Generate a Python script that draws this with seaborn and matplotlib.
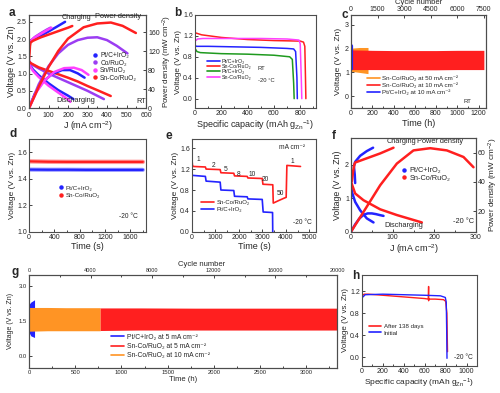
import matplotlib
matplotlib.use("Agg")
import matplotlib.pyplot as plt
import seaborn as sns
from matplotlib.lines import Line2D
from matplotlib.ticker import AutoMinorLocator

BLUE = "#2323ff"
RED = "#ff1f1f"
PURPLE = "#9b3df2"
MAGENTA = "#ff40ff"
GREEN = "#1f9a1f"
ORANGE = "#ff9424"

# legend names (plain unicode sub/superscripts keep the rows compact)
PT = "Pt/C+IrO₂"
SNCO = "Sn-Co/RuO₂"
MACM = "mA cm⁻²"
VLAB = "Voltage (V vs. Zn)"
CAPLAB = "Specific capacity (mAh g$_{\\mathrm{Zn}}$$^{-1}$)"

# a : RT polarisation and power density
a_pt_chg_j = [0, 5, 10, 30, 60, 100, 140, 185]
a_pt_chg_v = [1.85, 1.92, 1.95, 2.02, 2.1, 2.22, 2.35, 2.5]
a_pt_dis_j = [0, 5, 20, 50, 100, 150, 200, 228]
a_pt_dis_v = [1.35, 1.25, 1.12, 0.95, 0.72, 0.52, 0.36, 0.26]
a_pt_pow_j = [0, 30, 70, 120, 170, 210, 250, 285]
a_pt_pow_p = [0, 30, 55, 72, 80, 80, 73, 64]

a_co_chg_j = [0, 10, 30, 60, 90, 110]
a_co_chg_v = [1.85, 1.96, 2.06, 2.17, 2.27, 2.33]
a_co_dis_j = [0, 10, 50, 100, 200, 300, 384]
a_co_dis_v = [1.38, 1.28, 1.15, 1.0, 0.75, 0.5, 0.26]
a_co_pow_j = [0, 50, 100, 150, 200, 250, 300, 350, 400, 450, 505]
a_co_pow_p = [0, 50, 88, 115, 133, 143, 148, 149, 143, 131, 115]

a_sn_chg_j = [0, 10, 30, 60, 90, 115]
a_sn_chg_v = [1.85, 1.95, 2.05, 2.15, 2.25, 2.33]
a_sn_dis_j = [0, 5, 20, 50, 100, 150, 200, 212]
a_sn_dis_v = [1.35, 1.22, 1.08, 0.9, 0.65, 0.45, 0.25, 0.18]
a_sn_pow_j = [0, 40, 80, 130, 180, 230, 270, 305]
a_sn_pow_p = [0, 35, 58, 76, 84, 85, 80, 70]

a_snco_chg_j = [0, 3, 5, 8, 20, 60, 100, 150, 200, 222]
a_snco_chg_v = [1.4, 1.6, 1.8, 1.9, 1.95, 2.05, 2.13, 2.23, 2.33, 2.38]
a_snco_dis_j = [0, 10, 50, 100, 150, 200, 250, 300, 350, 419]
a_snco_dis_v = [1.35, 1.3, 1.18, 1.08, 0.98, 0.88, 0.77, 0.64, 0.52, 0.35]
a_snco_pow_j = [0, 25, 50, 100, 150, 200, 280, 350, 420, 480, 548]
a_snco_pow_p = [0, 22, 45, 86, 120, 146, 170, 178, 180, 173, 158]

# b : discharge curves
b_pt_rt_q = [0, 10, 100, 300, 500, 700, 750, 765, 775, 778]
b_pt_rt_v = [1.02, 1.0, 1.0, 0.99, 0.98, 0.96, 0.95, 0.9, 0.4, 0.0]
b_snco_rt_q = [0, 50, 200, 400, 600, 800, 825, 835, 840, 843]
b_snco_rt_v = [1.26, 1.22, 1.17, 1.13, 1.11, 1.1, 1.08, 1.0, 0.4, 0.0]
b_pt_lt_q = [0, 15, 40, 200, 400, 600, 720, 740, 750, 754]
b_pt_lt_v = [0.96, 0.9, 0.88, 0.86, 0.85, 0.83, 0.8, 0.75, 0.3, 0.0]
b_snco_lt_q = [0, 20, 60, 300, 500, 700, 790, 800, 808, 812]
b_snco_lt_v = [1.1, 1.14, 1.15, 1.15, 1.15, 1.14, 1.12, 1.05, 0.4, 0.0]

# c : long-term cycling at RT (band = voltage range of the cycles)
c_orange_t = [0, 80, 160]
c_orange_hi = [2.02, 2.05, 2.05]
c_orange_lo = [1.05, 1.0, 0.95]
c_red_t = [0, 200, 400, 600, 800, 1000, 1250]
c_red_hi = [1.95, 1.93, 1.92, 1.92, 1.92, 1.93, 1.93]
c_red_lo = [1.12, 1.12, 1.12, 1.11, 1.11, 1.12, 1.12]
c_blue_t = [0, 8, 15]
c_blue_hi = [2.2, 2.2, 2.15]
c_blue_lo = [1.12, 1.12, 1.15]

# d : charge at -20 C
d_t = [0, 300, 600, 900, 1200, 1500, 1800]
d_pt_v = [1.468, 1.467, 1.467, 1.466, 1.466, 1.466, 1.466]
d_snco_v = [1.53, 1.527, 1.526, 1.526, 1.526, 1.526, 1.526]

# e : rate performance at -20 C
e_snco_t = [0, 20, 60, 570, 600, 1200, 1230, 1780, 1810, 2350, 2380, 2990, 3020, 3440, 3460, 3700, 3900, 4010, 4040, 4620]
e_snco_v = [1.38, 1.27, 1.25, 1.24, 1.2, 1.19, 1.13, 1.12, 1.07, 1.06, 1.03, 1.02, 0.91, 0.9, 0.55, 0.6, 0.64, 0.66, 1.27, 1.25]
e_pt_t = [0, 10, 570, 600, 1200, 1230, 1780, 1810, 2350, 2380, 2990, 3030, 3430, 3440]
e_pt_v = [1.12, 1.08, 1.06, 0.97, 0.95, 0.8, 0.79, 0.68, 0.67, 0.63, 0.62, 0.38, 0.37, -0.1]
e_rate_lab = ["1", "2", "5", "8", "10", "20", "50", "1"]
e_rate_t = [284, 923, 1449, 1989, 2557, 3125, 3764, 4290]
e_rate_v = [1.38, 1.27, 1.19, 1.10, 1.10, 1.01, 0.74, 1.35]

# f : -20 C polarisation and power density
f_pt_chg_j = [10, 9, 7, 10, 22, 38, 53]
f_pt_chg_v = [1.45, 1.7, 1.95, 2.08, 2.26, 2.4, 2.5]
f_pt_dis_j = [0, 2, 10, 22, 38, 54]
f_pt_dis_v = [1.45, 1.19, 0.89, 0.64, 0.4, 0.28]
f_pt_pow_j = [0, 10, 20, 30, 40, 50, 60, 70, 78]
f_pt_pow_p = [6, 11, 15, 17.5, 18.5, 18.5, 18, 17.3, 16.8]
f_snco_chg_j = [2, 5, 8, 10, 30, 70, 102]
f_snco_chg_v = [1.5, 1.8, 2.0, 2.06, 2.15, 2.33, 2.5]
f_snco_dis_j = [0, 10, 30, 70, 110, 170]
f_snco_dis_v = [1.49, 1.14, 0.94, 0.67, 0.5, 0.28]
f_snco_pow_j = [0, 30, 70, 110, 150, 190, 230, 270, 294]
f_snco_pow_p = [6, 19.5, 37.7, 52.5, 61.5, 63, 61.5, 57, 50]

# g : long-term cycling at -20 C
g_blue_t = [0, 20, 60]
g_blue_hi = [2.2, 2.3, 2.4]
g_blue_lo = [1.0, 0.85, 0.78]
g_orange_t = [0, 200, 400, 600, 770]
g_orange_hi = [2.07, 2.07, 2.06, 2.06, 2.06]
g_orange_lo = [1.05, 1.07, 1.07, 1.07, 1.07]
g_red_t = [770, 1200, 1800, 2400, 3000, 3333]
g_red_hi = [2.05, 2.05, 2.04, 2.04, 2.04, 2.04]
g_red_lo = [1.08, 1.1, 1.1, 1.1, 1.1, 1.1]

# h : storage test
h_after_q = [0, 20, 60, 200, 400, 600, 635, 637, 637, 640, 700, 780, 800, 812, 818]
h_after_v = [1.12, 1.15, 1.15, 1.13, 1.1, 1.07, 1.06, 1.29, 1.03, 1.06, 1.06, 1.05, 1.02, 0.8, 0.1]
h_init_q = [0, 2, 10, 30, 200, 400, 600, 750, 797, 806, 810, 813]
h_init_v = [1.47, 1.12, 1.1, 1.14, 1.15, 1.14, 1.13, 1.12, 1.09, 1.0, 0.5, -0.02]

sns.set_theme(style="ticks")
plt.rcParams["font.family"] = ["Liberation Sans", "DejaVu Sans"]
plt.rcParams["mathtext.fontset"] = "custom"
plt.rcParams["mathtext.rm"] = "Liberation Sans"
plt.rcParams["mathtext.it"] = "Liberation Sans:italic"


def line(ax, x, y, color, lw=1.1):
    sns.lineplot(x=x, y=y, ax=ax, color=color, linewidth=lw, sort=False, estimator=None)


def style(ax, fs=5):
    ax.tick_params(which="both", direction="in", labelsize=fs, width=0.6, pad=1.5)
    ax.tick_params(which="major", length=2.2)
    ax.tick_params(which="minor", length=1.2)
    for s in ax.spines.values():
        s.set_linewidth(0.8)
        s.set_color("0.3")


def dots(colors, labels):
    return [Line2D([], [], marker="o", ls="", color=c, markersize=2.2, label=l)
            for c, l in zip(colors, labels)]


def lines(colors, labels, lw=1.2):
    return [Line2D([], [], color=c, lw=lw, label=l) for c, l in zip(colors, labels)]


def leg(ax, handles, anchor, fs=5, hl=2.0, ls=0.35):
    ax.legend(handles=handles, loc="upper left", bbox_to_anchor=anchor, frameon=False,
              fontsize=fs, handlelength=hl, handletextpad=0.4, labelspacing=ls,
              borderaxespad=0, borderpad=0)


fig = plt.figure(figsize=(5, 3.93), dpi=100)

# ---------------- a
ax = fig.add_axes([0.058, 0.725, 0.234, 0.237])
axr = ax.twinx()
for j, v, c in [(a_pt_chg_j, a_pt_chg_v, BLUE), (a_pt_dis_j, a_pt_dis_v, BLUE),
                (a_co_chg_j, a_co_chg_v, PURPLE), (a_co_dis_j, a_co_dis_v, PURPLE),
                (a_sn_chg_j, a_sn_chg_v, MAGENTA), (a_sn_dis_j, a_sn_dis_v, MAGENTA),
                (a_snco_chg_j, a_snco_chg_v, RED), (a_snco_dis_j, a_snco_dis_v, RED)]:
    line(ax, j, v, c, lw=1.8)
for j, p, c in [(a_pt_pow_j, a_pt_pow_p, BLUE), (a_co_pow_j, a_co_pow_p, PURPLE),
                (a_sn_pow_j, a_sn_pow_p, MAGENTA), (a_snco_pow_j, a_snco_pow_p, RED)]:
    line(axr, j, p, c, lw=1.8)
ax.set_xlim(0, 600)
ax.set_ylim(0, 2.7)
axr.set_ylim(0, 196)
ax.set_xticks(range(0, 601, 100))
ax.set_yticks([0, 0.5, 1.0, 1.5, 2.0, 2.5])
ax.set_yticklabels(["0.0", "0.5", "1.0", "1.5", "2.0", "2.5"])
axr.set_yticks([0, 40, 80, 120, 160])
ax.xaxis.set_minor_locator(AutoMinorLocator(2))
style(ax, 5)
style(axr, 5)
ax.tick_params(axis="x", pad=2.5)
ax.set_xlabel("J (mA cm$^{-2}$)", fontsize=6.5, labelpad=0.5)
ax.set_ylabel(VLAB, fontsize=6.5, labelpad=1)
axr.set_ylabel("Power density (mW cm$^{-2}$)", fontsize=5.8, labelpad=0.5)
axr.text(243, 2.62 / 2.7 * 196, "Charging", fontsize=5.3, ha="center", va="center")
axr.text(458, 2.65 / 2.7 * 196, "Power density", fontsize=5.3, ha="center", va="center")
axr.text(238, 0.21 / 2.7 * 196, "Discharging", fontsize=5.3, ha="center", va="center")
axr.text(574, 0.2 / 2.7 * 196, "RT", fontsize=5.3, ha="center", va="center")
leg(axr, dots([BLUE, PURPLE, MAGENTA, RED], [PT, "Co/RuO₂", "Sn/RuO₂", SNCO]),
    (0.54, 0.6), fs=4.8, hl=0.8, ls=0.08)

# ---------------- b
ax = fig.add_axes([0.39, 0.725, 0.242, 0.237])
for q, v, c in [(b_pt_rt_q, b_pt_rt_v, BLUE), (b_snco_rt_q, b_snco_rt_v, RED),
                (b_pt_lt_q, b_pt_lt_v, GREEN), (b_snco_lt_q, b_snco_lt_v, MAGENTA)]:
    line(ax, q, v, c, lw=1.1)
ax.set_xlim(0, 920)
ax.set_ylim(-0.18, 1.6)
ax.set_xticks([0, 200, 400, 600, 800])
ax.set_yticks([0, 0.4, 0.8, 1.2, 1.6])
ax.set_yticklabels(["0.0", "0.4", "0.8", "1.2", "1.6"])
ax.xaxis.set_minor_locator(AutoMinorLocator(2))
style(ax, 5)
ax.set_xlabel(CAPLAB, fontsize=6.5, labelpad=1)
ax.set_ylabel(VLAB, fontsize=5.8, labelpad=1)
leg(ax, lines([BLUE, RED, GREEN, MAGENTA], [PT, SNCO, PT, SNCO]), (0.1, 0.53), fs=3.9, hl=2.3, ls=0.05)
ax.text(0.52, 0.43, "RT", transform=ax.transAxes, fontsize=4.2, va="center")
ax.text(0.52, 0.3, "-20 °C", transform=ax.transAxes, fontsize=4.2, va="center")

# ---------------- c
ax = fig.add_axes([0.702, 0.725, 0.27, 0.237])
ax.fill_between(c_orange_t, c_orange_lo, c_orange_hi, color=ORANGE, lw=0)
ax.fill_between(c_red_t, c_red_lo, c_red_hi, color=RED, lw=0)
ax.fill_between(c_blue_t, c_blue_lo, c_blue_hi, color=BLUE, lw=0)
ax.set_xlim(0, 1270)
ax.set_ylim(-0.5, 3.42)
ax.set_xticks(range(0, 1201, 200))
ax.set_yticks([0, 1, 2, 3])
ax.xaxis.set_minor_locator(AutoMinorLocator(2))
style(ax, 5)
ax.set_xlabel("Time (h)", fontsize=6.5, labelpad=1)
ax.set_ylabel(VLAB, fontsize=6.0, labelpad=2)
axt = ax.twiny()
axt.set_xlim(0, 1270 * 6)
axt.set_xticks(range(0, 7501, 1500))
style(axt, 5)
axt.set_xlabel("Cycle number", fontsize=5.5, labelpad=1)
leg(ax, lines([ORANGE, RED, BLUE], [SNCO + " at 50 " + MACM, SNCO + " at 10 " + MACM, PT + " at 10 " + MACM]),
    (0.12, 0.35), fs=4.5, hl=2.0, ls=0.2)
ax.text(0.83, 0.075, "RT", transform=ax.transAxes, fontsize=4.3, va="center")

# ---------------- d
ax = fig.add_axes([0.058, 0.41, 0.234, 0.237])
line(ax, d_t, d_snco_v, "#ff9a9a", lw=3.2)
line(ax, d_t, d_snco_v, RED, lw=1.6)
line(ax, d_t, d_pt_v, "#9a9aff", lw=3.0)
line(ax, d_t, d_pt_v, BLUE, lw=1.6)
ax.set_xlim(0, 1850)
ax.set_ylim(1.0, 1.7)
ax.set_xticks(range(0, 1601, 400))
ax.set_yticks([1.0, 1.2, 1.4, 1.6])
ax.xaxis.set_minor_locator(AutoMinorLocator(2))
style(ax, 5)
ax.set_xlabel("Time (s)", fontsize=6.5, labelpad=1)
ax.set_ylabel(VLAB, fontsize=6.0, labelpad=1)
leg(ax, dots([BLUE, RED], [PT, SNCO]), (0.25, 0.5), fs=4.5, hl=0.8, ls=0.27)
ax.text(0.85, 0.16, "-20 °C", transform=ax.transAxes, fontsize=4.8, ha="center", va="center")

# ---------------- e
ax = fig.add_axes([0.384, 0.41, 0.248, 0.237])
line(ax, e_snco_t, e_snco_v, RED, lw=1.2)
line(ax, e_pt_t, e_pt_v, BLUE, lw=1.2)
ax.set_xlim(0, 5280)
ax.set_ylim(0, 1.78)
ax.set_xticks(range(0, 5001, 1000))
ax.set_yticks([0, 0.4, 0.8, 1.2, 1.6])
ax.set_yticklabels(["0.0", "0.4", "0.8", "1.2", "1.6"])
ax.xaxis.set_minor_locator(AutoMinorLocator(2))
style(ax, 5)
ax.set_xlabel("Time (s)", fontsize=6.5, labelpad=1)
ax.set_ylabel(VLAB, fontsize=6.0, labelpad=1)
for lab, t, v in zip(e_rate_lab, e_rate_t, e_rate_v):
    ax.text(t, v, lab, fontsize=4.8, ha="center", va="center")
ax.text(0.81, 0.91, MACM, transform=ax.transAxes, fontsize=4.8, ha="center", va="center")
ax.text(0.89, 0.1, "-20 °C", transform=ax.transAxes, fontsize=4.8, ha="center", va="center")
leg(ax, lines([RED, BLUE], [SNCO, PT]), (0.07, 0.34), fs=4.3, hl=2.2, ls=0.25)

# ---------------- f
ax = fig.add_axes([0.702, 0.41, 0.25, 0.239])
axr = ax.twinx()
for j, v, c in [(f_pt_chg_j, f_pt_chg_v, BLUE), (f_pt_dis_j, f_pt_dis_v, BLUE),
                (f_snco_chg_j, f_snco_chg_v, RED), (f_snco_dis_j, f_snco_dis_v, RED)]:
    line(ax, j, v, c, lw=1.8)
line(axr, f_pt_pow_j, f_pt_pow_p, BLUE, lw=1.8)
line(axr, f_snco_pow_j, f_snco_pow_p, RED, lw=1.8)
ax.set_xlim(0, 300)
ax.set_ylim(0, 2.79)
axr.set_ylim(5.9, 70)
ax.set_xticks([0, 100, 200, 300])
ax.set_yticks([0, 1, 2])
axr.set_yticks([20, 40, 60])
ax.xaxis.set_minor_locator(AutoMinorLocator(2))
style(ax, 5)
style(axr, 5)
ax.set_xlabel("J (mA cm$^{-2}$)", fontsize=6.5, labelpad=1)
ax.set_ylabel(VLAB, fontsize=6.3, labelpad=2)
axr.set_ylabel("Power density (mW cm$^{-2}$)", fontsize=5.9, labelpad=0.5)
ax.text(122, 2.67, "Charging", fontsize=5.3, ha="center", va="center")
ax.text(214, 2.67, "Power density", fontsize=5.3, ha="center", va="center")
ax.text(127, 0.18, "Discharging", fontsize=5.3, ha="center", va="center")
ax.text(269, 0.3, "-20 °C", fontsize=5.3, ha="center", va="center")
leg(axr, dots([BLUE, RED], [PT, SNCO]), (0.4, 0.69), fs=5.3, hl=0.8, ls=0.08)

# ---------------- g
ax = fig.add_axes([0.058, 0.0636, 0.616, 0.237])
ax.fill_between(g_blue_t, g_blue_lo, g_blue_hi, color=BLUE, lw=0)
ax.fill_between(g_orange_t, g_orange_lo, g_orange_hi, color=ORANGE, lw=0)
ax.fill_between(g_red_t, g_red_lo, g_red_hi, color=RED, lw=0)
ax.set_xlim(0, 3333)
ax.set_ylim(-0.53, 3.47)
ax.set_xticks(range(0, 3001, 500))
ax.set_yticks([0, 1.5, 3.0])
ax.set_yticklabels(["0.0", "1.5", "3.0"])
ax.xaxis.set_minor_locator(AutoMinorLocator(2))
style(ax, 4.2)
ax.set_xlabel("Time (h)", fontsize=5.5, labelpad=1)
ax.set_ylabel(VLAB, fontsize=5.0, labelpad=3)
axt = ax.twiny()
axt.set_xlim(0, 20000)
axt.set_xticks(range(0, 20001, 4000))
axt.xaxis.set_minor_locator(AutoMinorLocator(2))
style(axt, 4.0)
axt.set_xlabel("Cycle number", fontsize=5.5, labelpad=1)
axt.xaxis.set_label_coords(0.56, 1.1)
leg(ax, lines([BLUE, RED, ORANGE], [PT + " at 5 " + MACM, SNCO + " at 5 " + MACM, SNCO + " at 10 " + MACM]),
    (0.265, 0.37), fs=4.9, hl=2.0, ls=0.35)

# ---------------- h
ax = fig.add_axes([0.724, 0.0687, 0.23, 0.2316])
line(ax, h_after_q, h_after_v, RED, lw=1.0)
line(ax, h_init_q, h_init_v, BLUE, lw=1.0)
ax.set_xlim(0, 1100)
ax.set_ylim(-0.16, 1.5)
ax.set_xticks(range(0, 1001, 200))
ax.set_yticks([0, 0.4, 0.8, 1.2])
ax.set_yticklabels(["0.0", "0.4", "0.8", "1.2"])
ax.xaxis.set_minor_locator(AutoMinorLocator(2))
style(ax, 5)
ax.set_xlabel(CAPLAB, fontsize=6.0, labelpad=1)
ax.set_ylabel(VLAB, fontsize=5.8, labelpad=1)
leg(ax, lines([RED, BLUE], ["After 138 days", "Initial"]), (0.06, 0.46), fs=4.4, hl=2.0, ls=0.15)
ax.text(0.88, 0.09, "-20 °C", transform=ax.transAxes, fontsize=4.8, ha="center", va="center")

# panel letters
for x, y, s in [(0.018, 0.966, "a"), (0.348, 0.966, "b"), (0.683, 0.962, "c"),
                (0.02, 0.658, "d"), (0.33, 0.655, "e"), (0.663, 0.655, "f"),
                (0.024, 0.308, "g"), (0.705, 0.297, "h")]:
    fig.text(x, y, s, fontsize=8.5, fontweight="bold", ha="left", va="center")

fig.savefig("out.png", dpi=100)
